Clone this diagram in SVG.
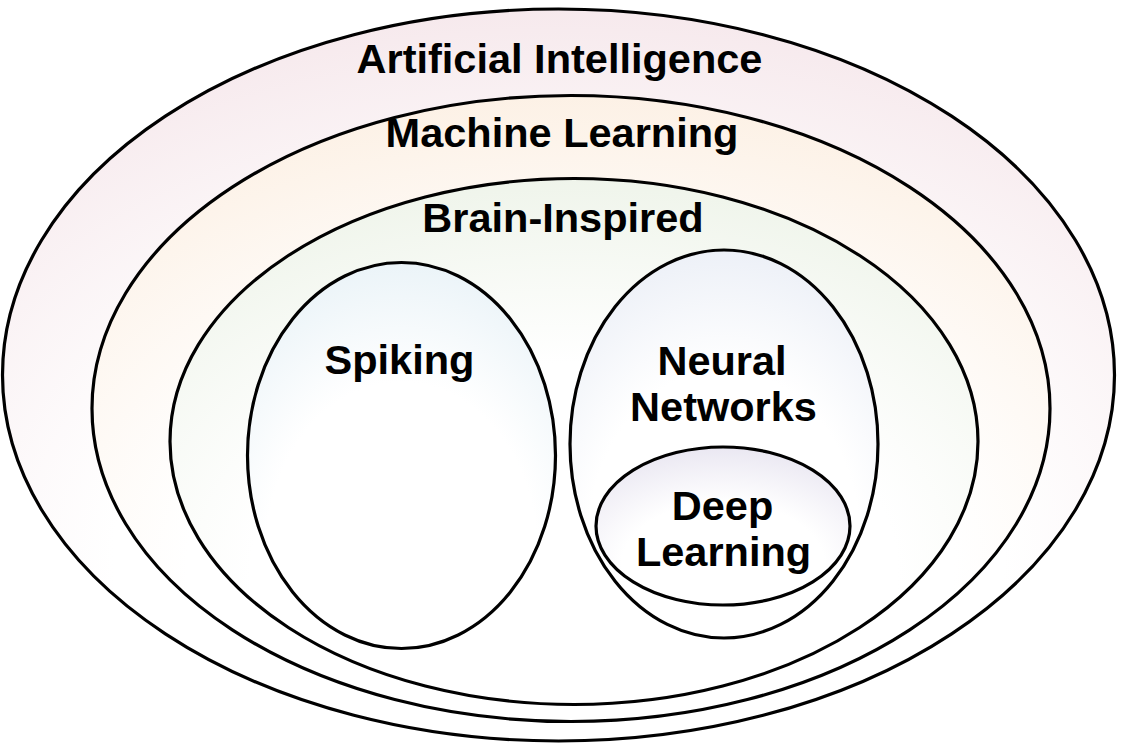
<svg xmlns="http://www.w3.org/2000/svg" width="1123" height="747" viewBox="0 0 1123 747">
<style>
.e{stroke:#000;stroke-width:3.2}
.t{font-family:"Liberation Sans",Arial,sans-serif;font-weight:bold;font-size:41.5px;fill:#000;text-anchor:middle}
</style>
<defs>
<radialGradient id="gAI" cx="0.5" cy="0.75" r="0.8"><stop offset="0.5" stop-color="#fff"/><stop offset="1" stop-color="#f5e6ea"/></radialGradient>
<radialGradient id="gML" cx="0.5" cy="0.75" r="0.8"><stop offset="0.5" stop-color="#fff"/><stop offset="1" stop-color="#fcefe2"/></radialGradient>
<radialGradient id="gBI" cx="0.5" cy="0.75" r="0.8"><stop offset="0.5" stop-color="#fff"/><stop offset="1" stop-color="#edf3e8"/></radialGradient>
<radialGradient id="gSP" cx="0.5" cy="0.75" r="0.8"><stop offset="0.55" stop-color="#fff"/><stop offset="1" stop-color="#e8f2f7"/></radialGradient>
<radialGradient id="gNN" cx="0.5" cy="0.75" r="0.8"><stop offset="0.55" stop-color="#fff"/><stop offset="1" stop-color="#eaeef6"/></radialGradient>
<radialGradient id="gDL" cx="0.5" cy="0.75" r="0.8"><stop offset="0.5" stop-color="#fff"/><stop offset="1" stop-color="#e7e4f0"/></radialGradient>
</defs>
<g id="ai"><ellipse class="e" cx="558.5" cy="375" rx="556" ry="366" fill="url(#gAI)"/><text class="t" x="559.5" y="73">Artificial Intelligence</text></g>
<g id="ml"><ellipse class="e" cx="571" cy="408.5" rx="479" ry="313" fill="url(#gML)"/><text class="t" x="562" y="147">Machine Learning</text></g>
<g id="bi"><ellipse class="e" cx="574" cy="441.5" rx="404" ry="263" fill="url(#gBI)"/><text class="t" x="563" y="232">Brain-Inspired</text></g>
<g id="sp"><ellipse class="e" cx="401.5" cy="455.5" rx="154" ry="193" fill="url(#gSP)"/><text class="t" x="399.5" y="374">Spiking</text></g>
<g id="nn"><ellipse class="e" cx="724" cy="444" rx="154" ry="194" fill="url(#gNN)"/><text class="t" x="722" y="375">Neural</text><text class="t" x="723.5" y="421">Networks</text></g>
<g id="dl"><ellipse class="e" cx="723" cy="526" rx="127" ry="79" fill="url(#gDL)"/><text class="t" x="722.5" y="520">Deep</text><text class="t" x="723.5" y="566">Learning</text></g>
<g id="connectors"/>
</svg>
